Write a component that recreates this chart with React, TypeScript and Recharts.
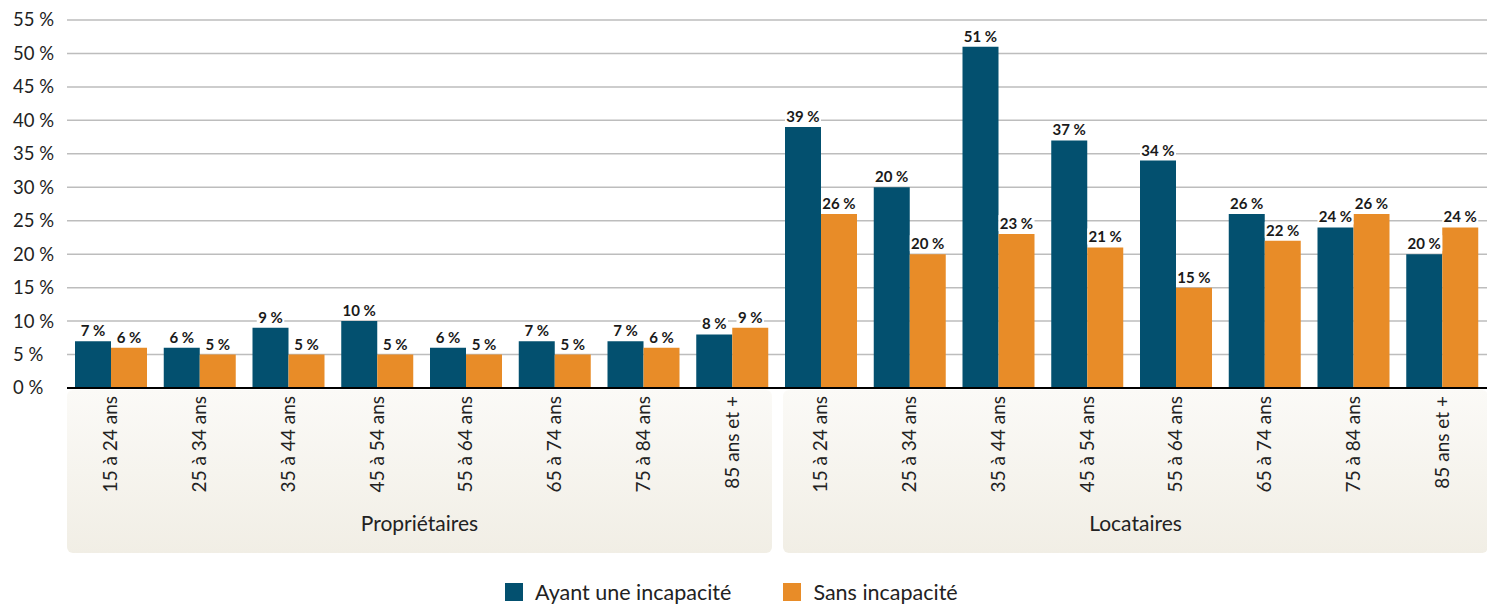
import { BarChart, Bar, XAxis, YAxis, CartesianGrid, LabelList } from 'recharts'

const groups = ['Propriétaires', 'Locataires']
const ageBands = ['15 à 24 ans', '25 à 34 ans', '35 à 44 ans', '45 à 54 ans', '55 à 64 ans', '65 à 74 ans', '75 à 84 ans', '85 ans et +']

// Propriétaires
const avecProprio = [7, 6, 9, 10, 6, 7, 7, 8]
const sansProprio = [6, 5, 5, 5, 5, 5, 6, 9]
// Locataires
const avecLoc = [39, 30, 51, 37, 34, 26, 24, 20]
const sansLoc = [26, 20, 23, 21, 15, 22, 26, 24]
// labels as printed on the source (25-34 ans bar reads 20 %)
const avecLocLabels = [39, 20, 51, 37, 34, 26, 24, 20]

const yTicks = [0, 5, 10, 15, 20, 25, 30, 35, 40, 45, 50, 55]

const BLUE = '#03506f'
const ORANGE = '#e88c28'
const FONT = 'Lato, "Open Sans", sans-serif'

const rows = [
  ...ageBands.map((age, i) => ({
    key: `${groups[0]}|${age}`, age, avec: avecProprio[i], sans: sansProprio[i],
    labAvec: avecProprio[i], labSans: sansProprio[i],
  })),
  ...ageBands.map((age, i) => ({
    key: `${groups[1]}|${age}`, age, avec: avecLoc[i], sans: sansLoc[i],
    labAvec: avecLocLabels[i], labSans: sansLoc[i],
  })),
]

const YTick = ({ y, payload }: any) => (
  <text x={13} y={y} dy="0.35em" textAnchor="start" fontSize={18.5} fill="#222" fontFamily={FONT}>
    {`${payload.value} %`}
  </text>
)

const XTick = ({ x, y, payload }: any) => (
  <text
    transform={`translate(${x + 6},${y}) rotate(-90)`}
    textAnchor="end"
    fontSize={19}
    fill="#222"
    fontFamily={FONT}
  >
    {String(payload.value).split('|')[1]}
  </text>
)

const ValueLabel = ({ x, y, width, value }: any) => {
  const txt = `${value} %`
  const w = txt.length * 8.5 + 2
  const cx = x + width / 2
  return (
    <g>
      <rect x={cx - w / 2} y={y - 19} width={w} height={16} fill="#fff" />
      <text x={cx} y={y - 5} textAnchor="middle" fontSize={15} fontWeight={700} fill="#1a1a1a" fontFamily={FONT}>
        {txt}
      </text>
    </g>
  )
}

const panel = (left: number): React.CSSProperties => ({
  position: 'absolute', left, top: 390, width: 705, height: 163, borderRadius: 6,
  background: 'linear-gradient(#fbfaf7, #f1eee5)',
})

const panelLabel: React.CSSProperties = {
  position: 'absolute', left: 0, right: 0, top: 119, textAlign: 'center',
  fontSize: 21, lineHeight: '28px', color: '#222', fontFamily: FONT,
}

export default function App() {
  return (
    <div style={{ position: 'absolute', left: 0, top: 0, width: 1487, height: 605, background: '#fff', fontFamily: FONT }}>
      <div style={panel(67)}>
        <div style={panelLabel}>{groups[0]}</div>
      </div>
      <div style={panel(783)}>
        <div style={panelLabel}>{groups[1]}</div>
      </div>

      <div style={{ position: 'absolute', left: 0, top: 0 }}>
        <BarChart
          width={1487}
          height={605}
          data={rows}
          margin={{ top: 20, right: 0, left: 0, bottom: 57 }}
          barGap={0}
          barSize={36}
        >
          <CartesianGrid vertical={false} stroke="#bdbdbd" strokeWidth={1.5} />
          <XAxis
            dataKey="key"
            interval={0}
            height={160}
            tickLine={false}
            axisLine={{ stroke: '#000', strokeWidth: 2 }}
            tick={<XTick />}
          />
          <YAxis
            width={67}
            domain={[0, 55]}
            ticks={yTicks}
            axisLine={false}
            tickLine={false}
            tick={<YTick />}
          />
          <Bar dataKey="avec" fill={BLUE} isAnimationActive={false}>
            <LabelList dataKey="labAvec" content={<ValueLabel />} />
          </Bar>
          <Bar dataKey="sans" fill={ORANGE} isAnimationActive={false}>
            <LabelList dataKey="labSans" content={<ValueLabel />} />
          </Bar>
        </BarChart>
      </div>

      <div style={{ position: 'absolute', left: 505, top: 579, display: 'flex', alignItems: 'center', fontSize: 21.5, lineHeight: '26px', color: '#222' }}>
        <span style={{ width: 18, height: 18, background: BLUE, display: 'inline-block', marginRight: 12 }} />
        <span style={{ marginRight: 52 }}>Ayant une incapacité</span>
        <span style={{ width: 18, height: 18, background: ORANGE, display: 'inline-block', marginRight: 12 }} />
        <span>Sans incapacité</span>
      </div>
    </div>
  )
}
